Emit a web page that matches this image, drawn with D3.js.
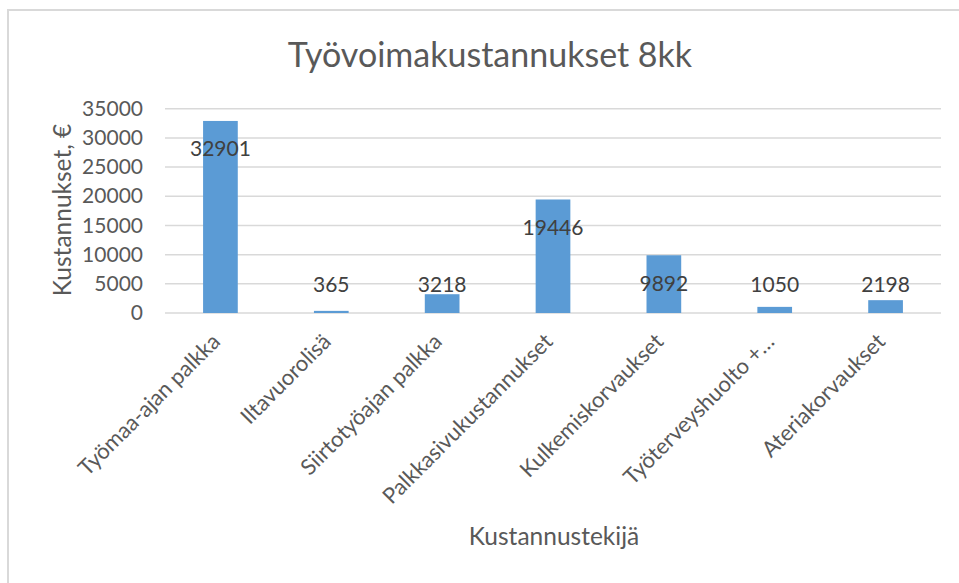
<!DOCTYPE html>
<html>
<head>
<meta charset="utf-8">
<script src="https://cdn.jsdelivr.net/npm/d3@7"></script>
<style>
  body { margin: 0; background: #fff; }
  text { font-family: Lato, "Open Sans", sans-serif; fill: #595959; }
</style>
</head>
<body>
<div id="chart"></div>
<script>
const categories = [
  'Työmaa-ajan palkka', 'Iltavuorolisä', 'Siirtotyöajan palkka',
  'Palkkasivukustannukset', 'Kulkemiskorvaukset', 'Työterveyshuolto +…', 'Ateriakorvaukset'
];
const costs = [32901, 365, 3218, 19446, 9892, 1050, 2198];
const yTicks = [0, 5000, 10000, 15000, 20000, 25000, 30000, 35000];

const width = 959;
const height = 583;
const margin = { top: 108.7, right: 18, bottom: 270, left: 165 };

const svg = d3.select('#chart')
  .append('svg')
  .attr('width', width)
  .attr('height', height);

// chart frame (only top and left edges visible)
svg.append('path')
  .attr('d', `M8,${height} V10 H${width}`)
  .attr('fill', 'none')
  .attr('stroke', '#d9d9d9')
  .attr('stroke-width', 2);

const x = d3.scaleBand()
  .domain(categories)
  .range([margin.left, width - margin.right])
  .paddingInner(0.687)
  .paddingOuter(0.3435);

const y = d3.scaleLinear()
  .domain([0, 35000])
  .range([height - margin.bottom, margin.top]);

// gridlines
svg.append('g')
  .selectAll('line')
  .data(yTicks)
  .enter().append('line')
  .attr('x1', margin.left)
  .attr('x2', width - margin.right)
  .attr('y1', d => y(d))
  .attr('y2', d => y(d))
  .attr('stroke', '#d9d9d9')
  .attr('stroke-width', 1.5);

// y tick labels
const yAxis = svg.append('g')
  .attr('transform', `translate(${margin.left - 22},0)`)
  .call(d3.axisLeft(y).tickValues(yTicks).tickFormat(d3.format('d')).tickSize(0).tickPadding(0));
yAxis.select('.domain').remove();
yAxis.selectAll('text')
  .attr('font-size', 21)
  .attr('font-family', 'Lato, sans-serif')
  .attr('fill', '#595959');

// bars
svg.append('g')
  .selectAll('rect')
  .data(categories)
  .enter().append('rect')
  .attr('x', d => x(d))
  .attr('width', x.bandwidth())
  .attr('y', (d, i) => y(costs[i]))
  .attr('height', (d, i) => y(0) - y(costs[i]))
  .attr('fill', '#5b9bd5');

// data labels
svg.append('g')
  .selectAll('text')
  .data(categories)
  .enter().append('text')
  .attr('x', d => x(d) + x.bandwidth() / 2)
  .attr('y', (d, i) => Math.min(y(costs[i]) + 28, y(0) - 28))
  .attr('dy', '0.35em')
  .attr('text-anchor', 'middle')
  .attr('font-size', 21)
  .style('fill', '#404040')
  .text((d, i) => costs[i]);

// x category labels
const xAxis = svg.append('g')
  .attr('transform', `translate(0,${y(0)})`)
  .call(d3.axisBottom(x).tickSize(0).tickPadding(0));
xAxis.select('.domain').remove();
xAxis.selectAll('text')
  .attr('font-size', 22)
  .attr('font-family', 'Lato, sans-serif')
  .attr('fill', '#595959')
  .attr('text-anchor', 'end')
  .attr('dy', null)
  .attr('y', null)
  .attr('transform', 'translate(1,30) rotate(-45)');

// title
svg.append('text')
  .attr('x', 490)
  .attr('y', 55)
  .attr('dy', '0.35em')
  .attr('text-anchor', 'middle')
  .attr('font-size', 34)
  .text('Työvoimakustannukset 8kk');

// axis titles
svg.append('text')
  .attr('transform', 'translate(62,210) rotate(-90)')
  .attr('text-anchor', 'middle')
  .attr('dy', '0.35em')
  .attr('font-size', 24.5)
  .text('Kustannukset, €');

svg.append('text')
  .attr('x', 554)
  .attr('y', 536)
  .attr('dy', '0.35em')
  .attr('text-anchor', 'middle')
  .attr('font-size', 24.5)
  .text('Kustannustekijä');
</script>
</body>
</html>
